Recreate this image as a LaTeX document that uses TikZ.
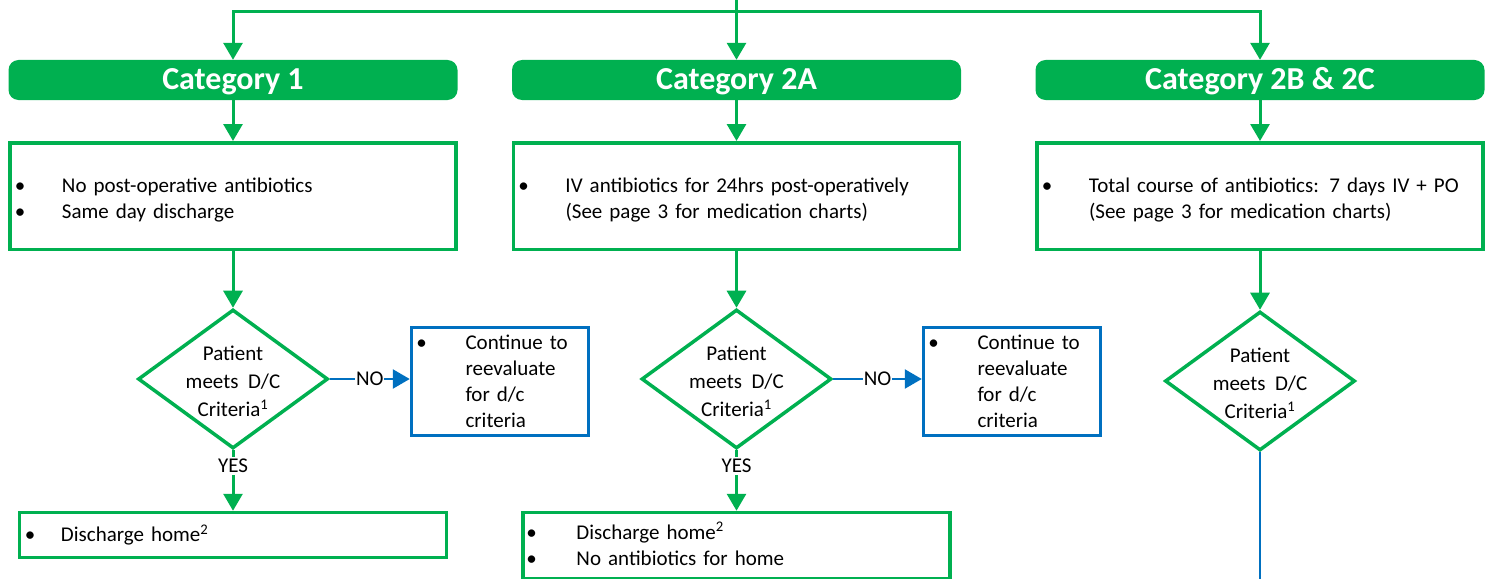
\documentclass[tikz,border=0pt]{standalone}
\usepackage{fontspec}
\setmainfont{Carlito}
\usetikzlibrary{arrows.meta,shapes.geometric}
\definecolor{grn}{HTML}{00B050}
\definecolor{blu}{HTML}{0070C0}
\newcommand{\bitem}[2]{\makebox[#2pt][l]{\makebox[#1pt]{\textbullet}}}
\newcommand{\upx}[1]{\rule{0pt}{#1pt}}
\newcommand{\dnx}[1]{\rule[-#1pt]{0pt}{1pt}}
\begin{document}
\begin{tikzpicture}[x=1pt,y=-1pt,
  font=\fontsize{21}{26}\selectfont,
  head/.style={fill=grn, rounded corners=10pt, minimum width=449pt, minimum height=40pt,
    inner sep=0pt, text=white, text height=22pt, text depth=3pt,
    font=\fontsize{32}{36}\selectfont\bfseries},
  gbox/.style={draw=grn, line width=3.5pt, inner xsep=0pt, inner ysep=0pt, align=left},
  bbox/.style={draw=blu, line width=3.5pt, inner xsep=0pt, inner ysep=0pt, align=left},
  dia/.style={draw=grn, line width=3.5pt, shape=diamond, inner sep=-30pt,
    minimum width=190pt, minimum height=139pt, align=center,
    font=\fontsize{21}{28}\selectfont},
  garrow/.style={draw=grn, line width=3pt, -{Triangle[width=19pt,length=17pt]}},
  barrow/.style={draw=blu, line width=2.5pt, -{Triangle[width=19pt,length=17pt]}},
  bline/.style={draw=blu, line width=2.5pt},
  lbl/.style={fill=white, inner xsep=1pt, inner ysep=2pt, text=black}
]
\useasboundingbox (0,0) rectangle (1490,578);

% headers
\node[head] (h1) at (233,80) {Category 1};
\node[head] (h2) at (736.5,80) {Category 2A};
\node[head] (h3) at (1260,80) {Category 2B \& 2C};

% top connectors
\coordinate (top) at (736.5,-2);
\coordinate (bar) at (736.5,12);
\draw[garrow] (top) -- (h2.north);
\draw[garrow] (bar) -| (h1.north);
\draw[garrow] (bar) -| (h3.north);

% first boxes
\node[gbox, text width=446pt, minimum height=106.5pt] (b1) at (233,196)
  {\upx{22}\bitem{20}{52}No post-operative antibiotics\\ \bitem{20}{52}Same day discharge};
\node[gbox, text width=446pt, minimum height=106.5pt] (b2) at (736.5,196)
  {\upx{22}\bitem{20}{52}IV antibiotics for 24hrs post-operatively\\ \hspace*{52pt}(See page 3 for medication charts)};
\node[gbox, text width=446pt, minimum height=106.5pt] (b3) at (1260,196)
  {\upx{22}\bitem{20}{52}Total course of antibiotics: 7 days IV + PO\\ \hspace*{52pt}(See page 3 for medication charts)};

\draw[garrow] (h1) -- (b1);
\draw[garrow] (h2) -- (b2);
\draw[garrow] (h3) -- (b3);

% diamonds
\node[dia] (d1) at (233,379) {\upx{20}Patient\\ meets~ D/C\\ Criteria\textsuperscript{1}};
\node[dia] (d2) at (736.5,379) {\upx{20}Patient\\ meets~ D/C\\ Criteria\textsuperscript{1}};
\node[dia] (d3) at (1260,381) {\upx{20}Patient\\ meets~ D/C\\ Criteria\textsuperscript{1}};

\draw[garrow] (b1) -- (d1);
\draw[garrow] (b2) -- (d2);
\draw[garrow] (b3) -- (d3);

% blue boxes
\node[bbox, text width=177pt, minimum height=108pt] (n1) at (500,381.5)
  {\bitem{20}{54}Continue to\\ \hspace*{54pt}reevaluate\\ \hspace*{54pt}for d/c\\ \hspace*{54pt}criteria};
\node[bbox, text width=177pt, minimum height=108pt] (n2) at (1012,381.5)
  {\bitem{20}{54}Continue to\\ \hspace*{54pt}reevaluate\\ \hspace*{54pt}for d/c\\ \hspace*{54pt}criteria};

\draw[barrow] (d1.east) -- node[lbl] {NO} (d1.east -| n1.west);
\draw[barrow] (d2.east) -- node[lbl] {NO} (d2.east -| n2.west);

% bottom boxes
\node[gbox, text width=427pt, minimum height=45pt] (e1) at (233,535)
  {\bitem{21}{41.5}Discharge home\textsuperscript{2}};
\node[gbox, text width=427pt, minimum height=66.5pt] (e2) at (736.5,545.75)
  {\bitem{17}{53.5}Discharge home\textsuperscript{2}\\ \bitem{17}{53.5}No antibiotics for home\dnx{4}};

\draw[garrow] (d1.south) -- node[lbl, pos=0.26] {YES} (e1.north);
\draw[garrow] (d2.south) -- node[lbl, pos=0.26] {YES} (e2.north);

\coordinate (end3) at (1260,590);
\draw[bline] (d3.south) -- (end3);
\end{tikzpicture}
\end{document}
